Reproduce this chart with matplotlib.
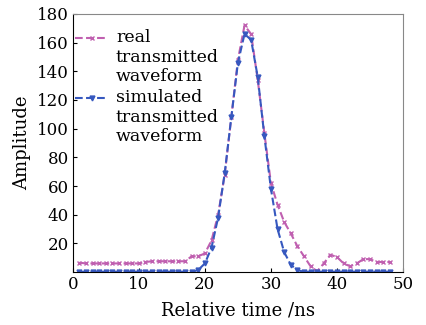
import matplotlib
matplotlib.use('agg')
import matplotlib.pyplot as plt

# time axis (ns)
t = list(range(1, 49))

real = [6.5, 6, 6, 6, 6, 6, 6, 6, 6, 6,
        7, 7.5, 7.5, 7.5, 7.5, 7.5, 7.5, 11, 11, 13,
        22, 40, 68, 108, 148, 172, 166, 134, 97, 62,
        47, 35, 27, 18, 11, 4, 0.5, 6, 12, 10.5,
        6, 4, 6, 9, 9, 7, 7, 7]

simulated = [0, 0, 0, 0, 0, 0, 0, 0, 0, 0,
             0, 0, 0, 0, 0, 0, 0, 0, 1.5, 6,
             17, 38, 69, 108, 146, 166, 162, 136, 95, 58,
             30, 14, 5, 1.5, 0, 0, 0, 0, 0, 0,
             0, 0, 0, 0, 0, 0, 0, 0]

xticks = [0, 10, 20, 30, 40, 50]
yticks = [20, 40, 60, 80, 100, 120, 140, 160, 180]

plt.rcParams['font.family'] = ['DejaVu Serif']

fig = plt.figure(figsize=(4.26, 3.25), dpi=100)
ax = fig.add_axes([0.171, 0.163, 0.775, 0.794])

ax.plot(t, real, linestyle='--', color='#c060b0', linewidth=1.5,
        marker='x', markersize=3, markeredgewidth=1,
        label='real\ntransmitted\nwaveform')
ax.plot(t, simulated, linestyle='--', color='#3658bf', linewidth=1.5,
        marker='v', markersize=3.5,
        label='simulated\ntransmitted\nwaveform')

ax.set_xlim(0, 50)
ax.set_ylim(0, 180)
ax.set_xticks(xticks)
ax.set_yticks(yticks)
ax.tick_params(direction='in', labelsize=12, length=3, pad=3)
ax.set_xlabel('Relative time /ns', fontsize=13, labelpad=6)
ax.set_ylabel('Amplitude', fontsize=13, labelpad=4)

for s in ['top', 'right']:
    ax.spines[s].set_color('#888888')

leg = ax.legend(loc='upper left', bbox_to_anchor=(-0.009, 0.961),
                frameon=False, fontsize=12.5,
                handlelength=1.9, handleheight=1.7, handletextpad=0.45,
                borderaxespad=0.0, borderpad=0.3, labelspacing=0.25)
# put the legend line next to the first text line, not the middle
for col in leg._legend_handle_box.get_children():
    for row in col.get_children():
        row.align = 'top'
for txt in leg.get_texts():
    txt.set_linespacing(1.18)

plt.savefig('out.png')
